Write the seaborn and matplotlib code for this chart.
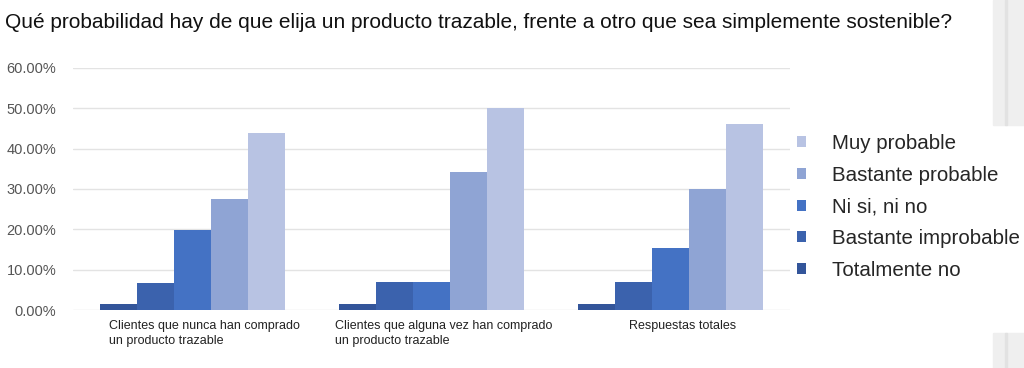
import numpy as np
import pandas as pd
import matplotlib
matplotlib.use('Agg')
import matplotlib.pyplot as plt
import matplotlib.ticker as mtick
import matplotlib.transforms as mtransforms
from matplotlib.patches import Rectangle
import seaborn as sns

groups = ['Clientes que nunca han comprado\nun producto trazable',
          'Clientes que alguna vez han comprado\nun producto trazable',
          'Respuestas totales']
answers = ['Totalmente no', 'Bastante improbable', 'Ni si, ni no',
           'Bastante probable', 'Muy probable']
totalmente_no = [0.014, 0.014, 0.014]
bastante_improbable = [0.068, 0.069, 0.069]
ni_si_ni_no = [0.199, 0.069, 0.154]
bastante_probable = [0.275, 0.342, 0.299]
muy_probable = [0.438, 0.50, 0.46]
colors = ['#33559a', '#3b62ad', '#4472c4', '#8fa4d4', '#b8c3e3']
title = 'Qué probabilidad hay de que elija un producto trazable, frente a otro que sea simplemente sostenible?'

series = [totalmente_no, bastante_improbable, ni_si_ni_no, bastante_probable, muy_probable]
rows = []
for answer, values in zip(answers, series):
    for g, v in zip(groups, values):
        rows.append({'grupo': g, 'respuesta': answer, 'valor': v})
df = pd.DataFrame(rows)

sns.set_theme(style='white')
plt.rcParams['font.family'] = ['Liberation Sans', 'DejaVu Sans']

fig = plt.figure(figsize=(10.24, 3.68), dpi=100)
ax = fig.add_axes([73 / 1024, 1 - 310 / 368, (790 - 73) / 1024, (310 - 68) / 368])

sns.barplot(data=df, x='grupo', y='valor', hue='respuesta', order=groups,
            hue_order=answers, palette=colors, width=0.77, saturation=1,
            linewidth=0, ax=ax)

ax.set_ylim(0, 0.6)
ax.set_xlim(-0.5, 2.5)
ax.yaxis.set_major_locator(mtick.MultipleLocator(0.1))
ax.yaxis.set_major_formatter(mtick.PercentFormatter(1.0, decimals=2))
ax.yaxis.grid(True, color='#e3e3e3', linewidth=1)
ax.set_axisbelow(True)
for s in ax.spines.values():
    s.set_visible(False)
ax.set_xlabel('')
ax.set_ylabel('')
ax.tick_params(axis='y', length=0, pad=12, labelsize=10.5, labelcolor='#555555')
ax.tick_params(axis='x', length=0, pad=7, labelsize=9, labelcolor='#222222')
shift = mtransforms.ScaledTranslation(12 / 100, 0, fig.dpi_scale_trans)
for lab in ax.get_xticklabels():
    lab.set_multialignment('left')
    lab.set_linespacing(1.35)
    lab.set_transform(lab.get_transform() + shift)

handles, labels = ax.get_legend_handles_labels()
ax.get_legend().remove()
fig.legend(handles[::-1], labels[::-1], loc='center left',
           bbox_to_anchor=(797 / 1024, 1 - 207 / 368), frameon=False,
           fontsize=14.8, handlelength=0.45, handleheight=0.45,
           handletextpad=1.25, labelspacing=0.62, borderpad=0, borderaxespad=0)

fig.text(5 / 1024, 1 - 23 / 368, title, fontsize=15, color='#111111', va='center', ha='left')

# grey scroll panels at the right edge
fig.patches.append(Rectangle((993 / 1024, 1 - 125 / 368), 31 / 1024, 125 / 368,
                             transform=fig.transFigure, color='#efefef', zorder=0))
fig.patches.append(Rectangle((993 / 1024, 0), 31 / 1024, 35 / 368,
                             transform=fig.transFigure, color='#efefef', zorder=0))
fig.patches.append(Rectangle((1005 / 1024, 1 - 125 / 368), 1.5 / 1024, 125 / 368,
                             transform=fig.transFigure, color='#e2e2e2', zorder=0))
fig.patches.append(Rectangle((1005 / 1024, 0), 1.5 / 1024, 35 / 368,
                             transform=fig.transFigure, color='#e2e2e2', zorder=0))

fig.savefig('out.png', dpi=100)
